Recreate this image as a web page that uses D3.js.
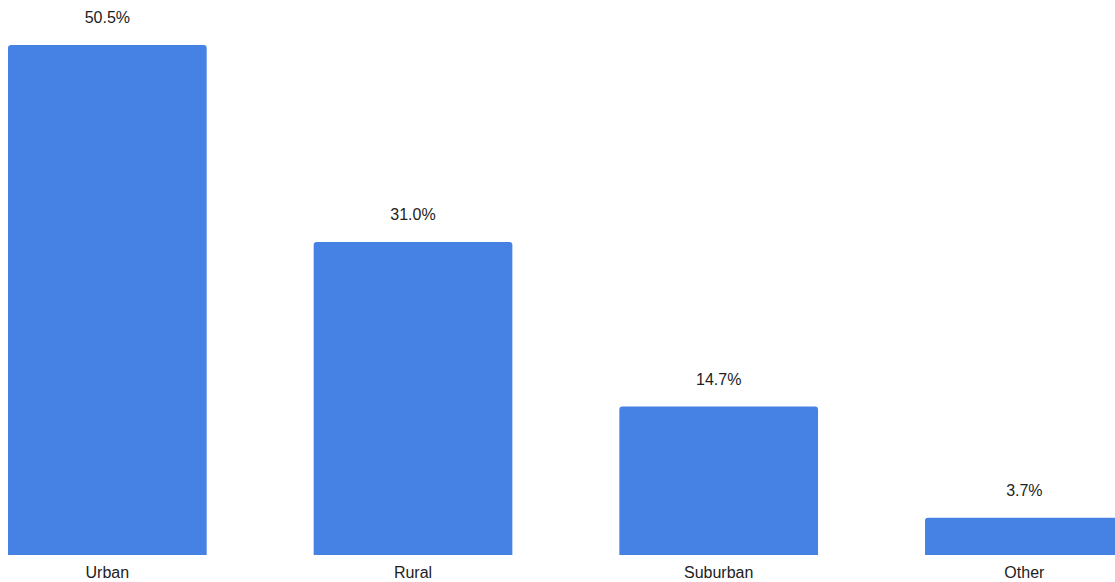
<!DOCTYPE html>
<html>
<head>
<meta charset="utf-8">
<script src="https://cdn.jsdelivr.net/npm/d3@7"></script>
<style>
  body { margin: 0; background: #fff; }
  svg text { font-family: "Liberation Sans", Arial, sans-serif; fill: #222; }
</style>
</head>
<body>
<div id="chart"></div>
<script>
var categories = ["Urban", "Rural", "Suburban", "Other"]
var shares = [50.5, 31.0, 14.7, 3.7]
var valueLabels = ["50.5%", "31.0%", "14.7%", "3.7%"]

var data = categories.map(function(c, i) {
    return {name: c, value: shares[i], label: valueLabels[i]}
})

var width = 1115, height = 582

var svg = d3.select("#chart")
    .append("svg")
    .attr("width", width)
    .attr("height", height)

// band step ~306px, bar ~199px; last bar runs off the right edge
var x = d3.scaleBand()
    .domain(categories)
    .range([-45.5, 1177.2])
    .paddingInner(0.35)
    .paddingOuter(0.175)

var y = d3.scaleLinear()
    .domain([0, 50.5])
    .range([555, 45])

var r = 3

svg.append("g")
    .selectAll("path")
    .data(data)
    .enter()
    .append("path")
    .attr("d", function(d) {
        var x0 = x(d.name), x1 = x0 + x.bandwidth()
        var y0 = y(d.value), y1 = y(0)
        return "M" + x0 + "," + y1 +
            "V" + (y0 + r) +
            "Q" + x0 + "," + y0 + " " + (x0 + r) + "," + y0 +
            "H" + (x1 - r) +
            "Q" + x1 + "," + y0 + " " + x1 + "," + (y0 + r) +
            "V" + y1 + "Z"
    })
    .style("fill", "#4582e4")

svg.append("g")
    .selectAll("text")
    .data(data)
    .enter()
    .append("text")
    .attr("x", function(d) { return x(d.name) + x.bandwidth() / 2 })
    .attr("y", function(d) { return y(d.value) - 22 })
    .attr("text-anchor", "middle")
    .style("font-size", "16px")
    .text(function(d) { return d.label })

svg.append("g")
    .selectAll("text")
    .data(data)
    .enter()
    .append("text")
    .attr("x", function(d) { return x(d.name) + x.bandwidth() / 2 })
    .attr("y", y(0) + 23)
    .attr("text-anchor", "middle")
    .style("font-size", "16px")
    .text(function(d) { return d.name })
</script>
</body>
</html>
